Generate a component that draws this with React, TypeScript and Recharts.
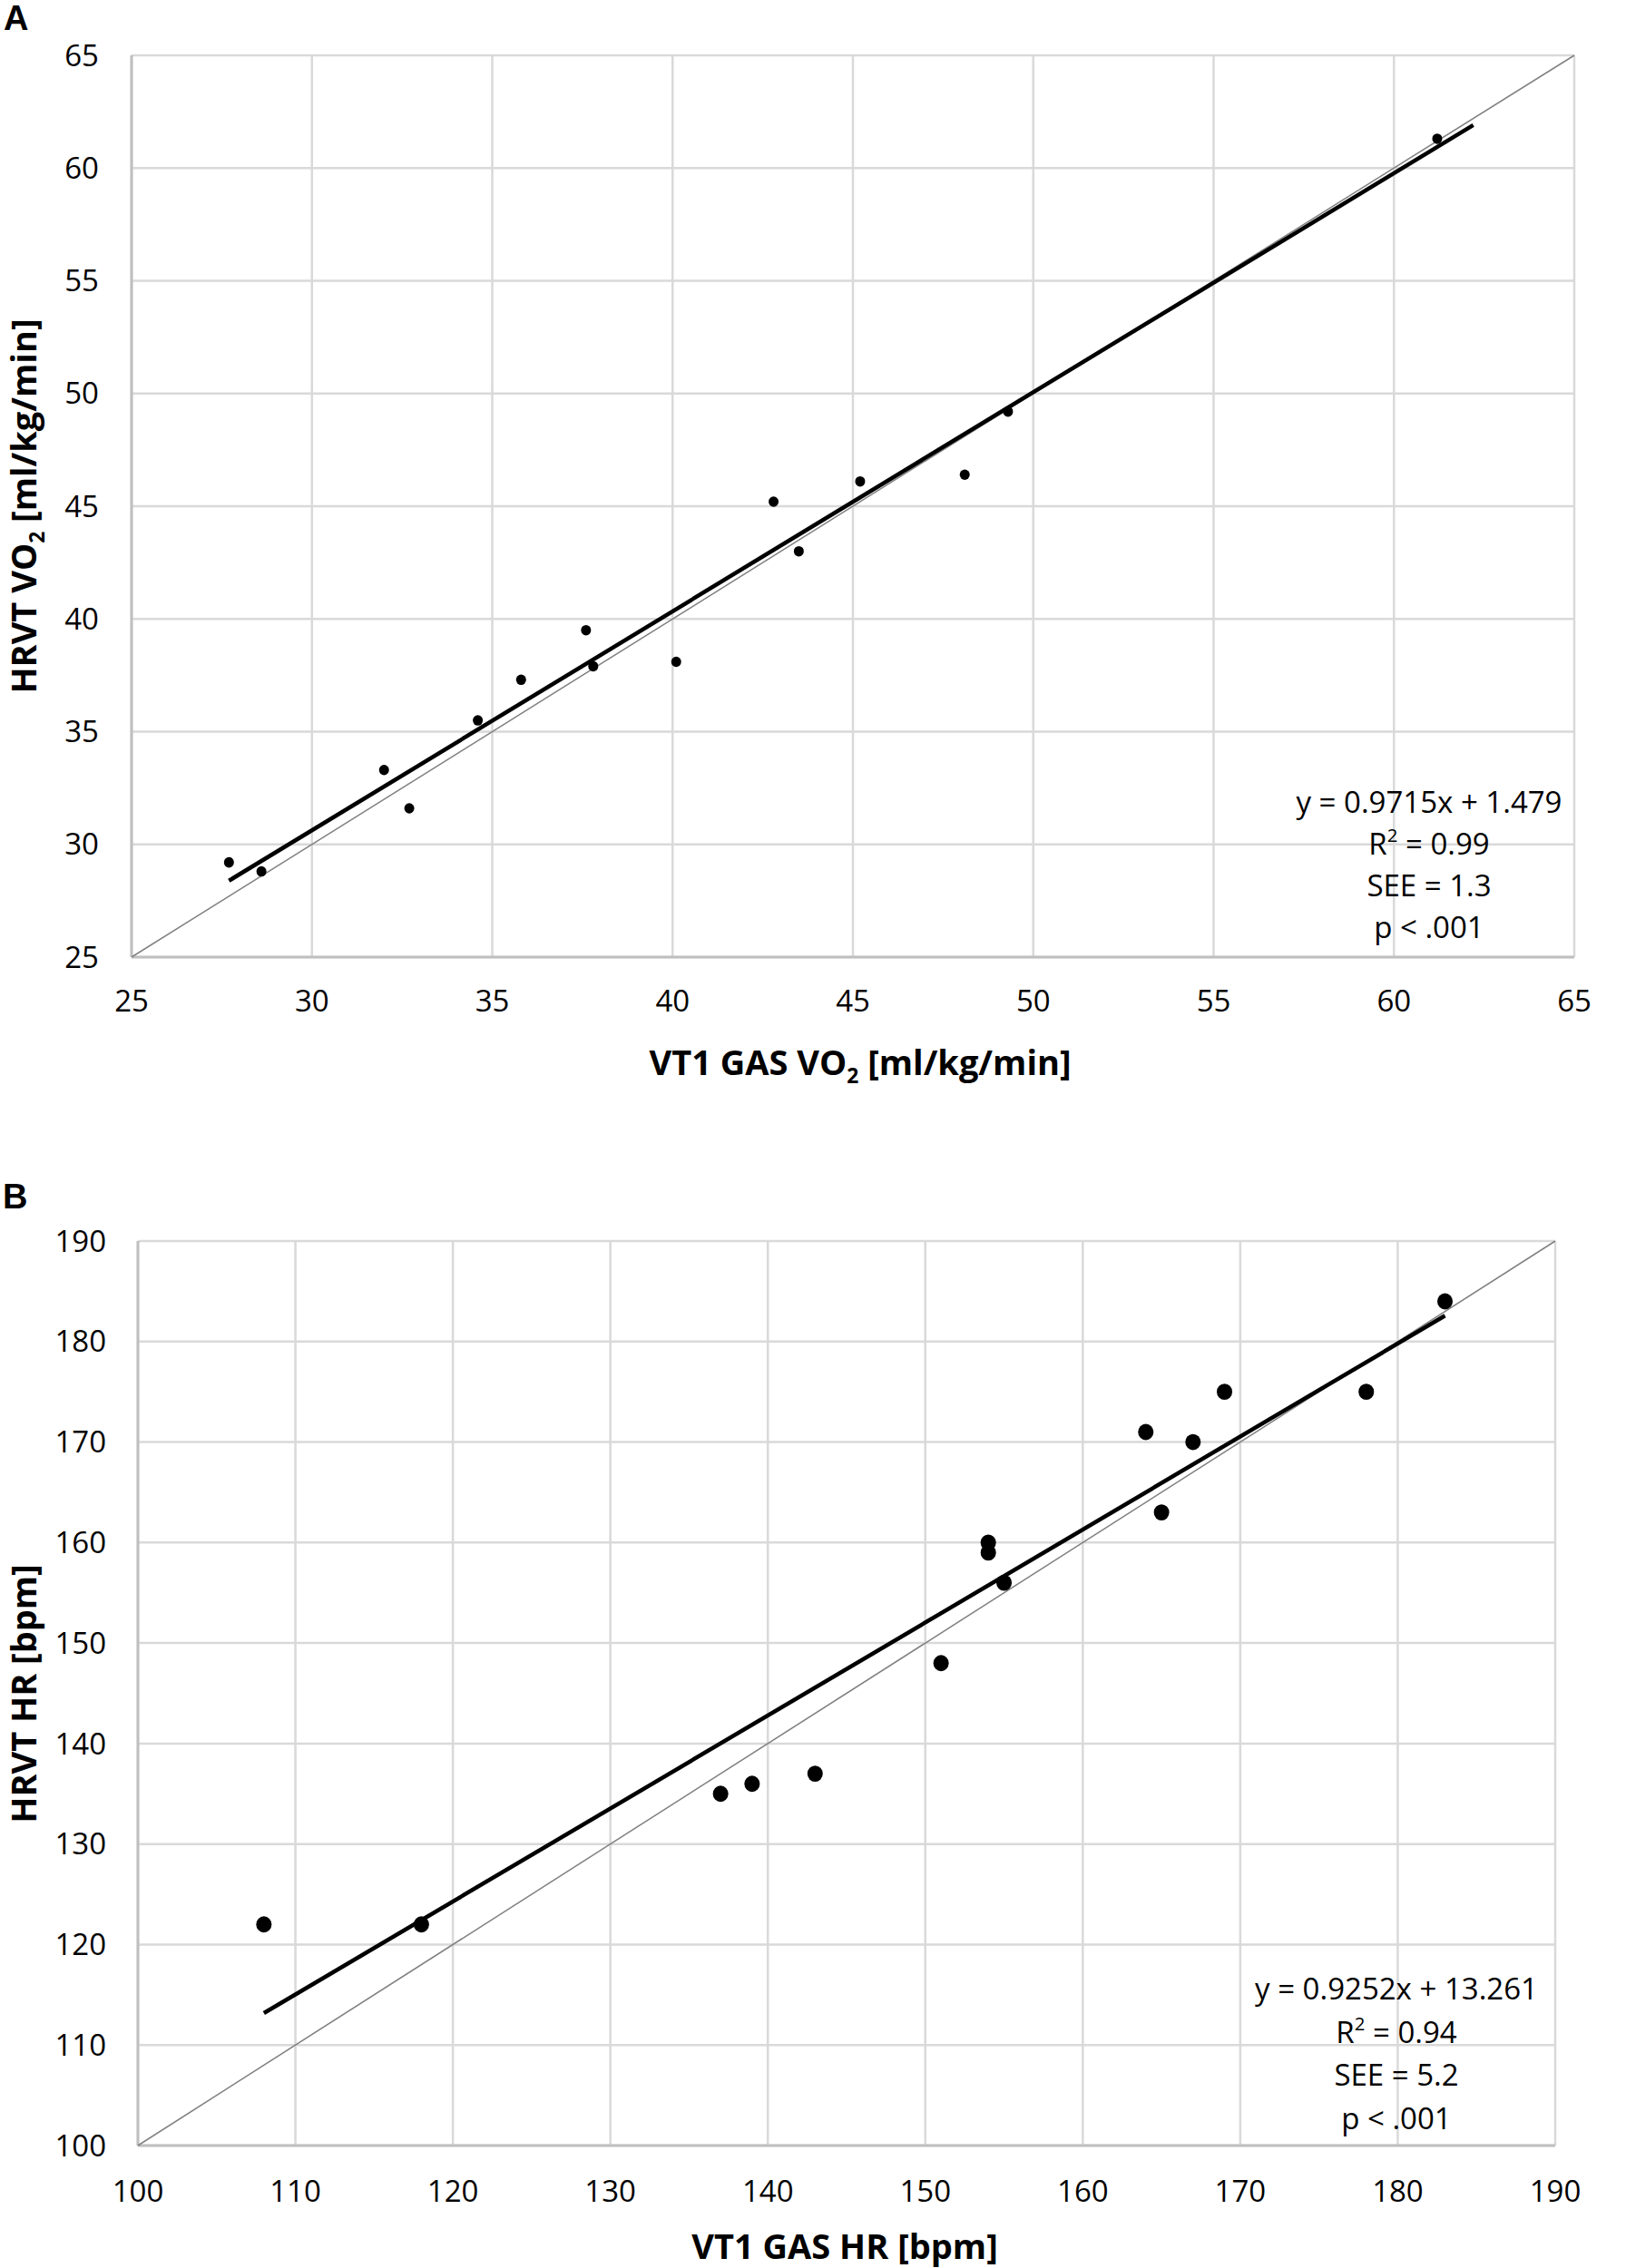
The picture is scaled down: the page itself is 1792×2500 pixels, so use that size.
import React from 'react'
import { ScatterChart, Scatter, XAxis, YAxis, CartesianGrid } from 'recharts'

// Panel A: VO2 at VT1 (gas exchange) vs HRVT
const gasVo2 = [27.7, 28.6, 32.0, 32.7, 34.6, 35.8, 37.6, 37.8, 40.1, 42.8, 43.5, 45.2, 48.1, 49.3, 61.2]
const hrvtVo2 = [29.2, 28.8, 33.3, 31.6, 35.5, 37.3, 39.5, 37.9, 38.1, 45.2, 43.0, 46.1, 46.4, 49.2, 61.3]
const vo2Ticks = [25, 30, 35, 40, 45, 50, 55, 60, 65]
const vo2Fit = { slope: 0.9715, intercept: 1.479, from: 27.7, to: 62.2 }
const vo2Stats = ['y = 0.9715x + 1.479', 'R2 = 0.99', 'SEE = 1.3', 'p < .001']

// Panel B: HR at VT1 (gas exchange) vs HRVT
const gasHr = [108, 118, 137, 139, 143, 151, 154, 154, 155, 164, 165, 167, 169, 178, 183]
const hrvtHr = [122, 122, 135, 136, 137, 148, 160, 159, 156, 171, 163, 170, 175, 175, 184]
const hrTicks = [100, 110, 120, 130, 140, 150, 160, 170, 180, 190]
const hrFit = { slope: 0.9252, intercept: 13.261, from: 108, to: 183 }
const hrStats = ['y = 0.9252x + 13.261', 'R2 = 0.94', 'SEE = 5.2', 'p < .001']

const FONT = '"Open Sans", sans-serif'
const tickStyle = { fontSize: 33, fill: '#000', fontFamily: FONT }
const noShape = () => <g />

function StatLine({ text }: { text: string }) {
  if (text.startsWith('R2')) {
    return (
      <div>
        R<sup style={{ fontSize: '0.62em', lineHeight: 0, verticalAlign: '0.7em' }}>2</sup>
        {text.slice(2)}
      </div>
    )
  }
  return <div>{text}</div>
}

interface PanelProps {
  top: number
  height: number
  xs: number[]
  ys: number[]
  ticks: number[]
  fit: { slope: number; intercept: number; from: number; to: number }
  margin: { top: number; left: number; right: number; bottom: number }
  dotR: number
  tickGapY: number
  tickGapX: number
}

function Panel({ top, height, xs, ys, ticks, fit, margin, dotR, tickGapY, tickGapX }: PanelProps) {
  const points = xs.map((x, i) => ({ x, y: ys[i] }))
  const lo = ticks[0]
  const hi = ticks[ticks.length - 1]
  const identity = [{ x: lo, y: lo }, { x: hi, y: hi }]
  const fitLine = [
    { x: fit.from, y: fit.slope * fit.from + fit.intercept },
    { x: fit.to, y: fit.slope * fit.to + fit.intercept },
  ]

  return (
    <div style={{ position: 'absolute', left: 0, top }}>
      <ScatterChart width={1792} height={height} margin={margin}>
        <CartesianGrid stroke="#d9d9d9" strokeWidth={2.5} />
        <XAxis
          type="number"
          dataKey="x"
          domain={[lo, hi]}
          ticks={ticks}
          interval={0}
          height={60}
          tickSize={0}
          tickMargin={tickGapX}
          tickLine={false}
          axisLine={{ stroke: '#bfbfbf', strokeWidth: 3 }}
          tick={tickStyle}
        />
        <YAxis
          type="number"
          dataKey="y"
          domain={[lo, hi]}
          ticks={ticks}
          interval={0}
          width={80}
          tickSize={0}
          tickMargin={tickGapY}
          tickLine={false}
          axisLine={{ stroke: '#bfbfbf', strokeWidth: 3 }}
          tick={tickStyle}
        />
        <Scatter
          data={identity}
          line={{ stroke: '#808080', strokeWidth: 1.5 }}
          shape={noShape}
          isAnimationActive={false}
        />
        <Scatter
          data={fitLine}
          line={{ stroke: '#000', strokeWidth: 4.5 }}
          shape={noShape}
          isAnimationActive={false}
        />
        <Scatter
          data={points}
          fill="#000"
          shape={(p: any) => <ellipse cx={p.cx} cy={p.cy} rx={dotR} ry={dotR * 1.05} fill="#000" />}
          isAnimationActive={false}
        />
      </ScatterChart>
    </div>
  )
}

export default function App() {
  const title: React.CSSProperties = {
    position: 'absolute',
    fontFamily: FONT,
    fontWeight: 700,
    fontSize: 38,
    color: '#000',
    whiteSpace: 'nowrap',
  }
  const stats: React.CSSProperties = {
    position: 'absolute',
    fontFamily: FONT,
    fontSize: 33,
    color: '#000',
    textAlign: 'center',
    width: 420,
  }
  const letter: React.CSSProperties = {
    position: 'absolute',
    fontFamily: '"Liberation Sans", Arial, sans-serif',
    fontWeight: 700,
    fontSize: 38,
    lineHeight: '38px',
    color: '#000',
  }

  return (
    <div style={{ position: 'absolute', left: 0, top: 0, width: 1792, height: 2500, background: '#fff', fontFamily: FONT }}>
      <Panel
        top={0}
        height={1230}
        xs={gasVo2}
        ys={hrvtVo2}
        ticks={vo2Ticks}
        fit={vo2Fit}
        margin={{ top: 61, left: 65, right: 57, bottom: 115 }}
        dotR={5.5}
        tickGapY={36}
        tickGapX={37}
      />
      <Panel
        top={1300}
        height={1200}
        xs={gasHr}
        ys={hrvtHr}
        ticks={hrTicks}
        fit={hrFit}
        margin={{ top: 68, left: 72, right: 78, bottom: 75 }}
        dotR={8.5}
        tickGapY={35}
        tickGapX={39}
      />

      <div style={{ ...letter, left: 4, top: 1 }}>A</div>
      <div style={{ ...letter, left: 3, top: 1300 }}>B</div>

      <div style={{ ...title, left: 948, top: 1170, transform: 'translate(-50%, -50%)' }}>
        VT1 GAS VO<sub style={{ fontSize: '0.6em', lineHeight: 0 }}>2</sub> [ml/kg/min]
      </div>
      <div style={{ ...title, left: 25, top: 558, transform: 'translate(-50%, -50%) rotate(-90deg)' }}>
        HRVT VO<sub style={{ fontSize: '0.6em', lineHeight: 0 }}>2</sub> [ml/kg/min]
      </div>
      <div style={{ ...title, left: 931, top: 2475, transform: 'translate(-50%, -50%)' }}>
        VT1 GAS HR [bpm]
      </div>
      <div style={{ ...title, left: 25, top: 1867, transform: 'translate(-50%, -50%) rotate(-90deg)' }}>
        HRVT HR [bpm]
      </div>

      <div style={{ ...stats, left: 1575 - 210, top: 861, lineHeight: '46px' }}>
        {vo2Stats.map((s) => <StatLine key={s} text={s} />)}
      </div>
      <div style={{ ...stats, left: 1539 - 210, top: 2168, lineHeight: '47.7px' }}>
        {hrStats.map((s) => <StatLine key={s} text={s} />)}
      </div>
    </div>
  )
}
